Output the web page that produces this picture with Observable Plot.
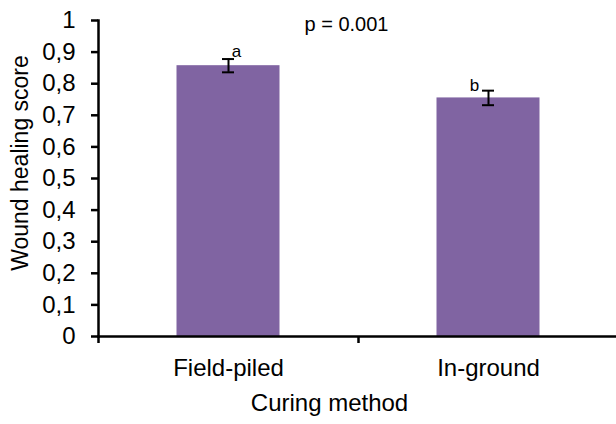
<!DOCTYPE html>
<html>
<head>
<meta charset="utf-8">
<script src="https://cdn.jsdelivr.net/npm/d3@7"></script>
<script src="https://cdn.jsdelivr.net/npm/@observablehq/plot@0.6"></script>
<style>
  html, body { margin: 0; padding: 0; background: #fff; }
  #chart { width: 616px; height: 424px; }
  svg { font-family: "Liberation Sans", Arial, sans-serif; }
</style>
</head>
<body>
<div id="chart"></div>
<script>
// Data
const methods = ["Field-piled", "In-ground"];
const scores = [0.857, 0.755];
const errors = [0.021, 0.023];
const letters = ["a", "b"];
const yTicks = [0, 0.1, 0.2, 0.3, 0.4, 0.5, 0.6, 0.7, 0.8, 0.9, 1];
const yTitle = "Wound healing score";
const xTitle = "Curing method";
const pText = "p = 0.001";

const data = methods.map((m, i) => ({method: m, score: scores[i], err: errors[i], letter: letters[i]}));
const purple = "#8064A2";
const font = "Liberation Sans, Arial, sans-serif";

const chart = Plot.plot({
  width: 616,
  height: 424,
  marginLeft: 98,
  marginRight: 0,
  marginTop: 20,
  marginBottom: 88,
  style: {fontFamily: font, color: "#000", background: "#fff"},
  x: {type: "band", domain: methods, range: [98, 618], padding: 0},
  y: {domain: [0, 1], range: [336, 20]},
  marks: [
    Plot.barY(data, {x: "method", y: "score", fill: purple, insetLeft: 78.5, insetRight: 78.5}),
    // error bars
    Plot.ruleX(data, {x: "method", y1: d => d.score - d.err, y2: d => d.score + d.err, stroke: "#000", strokeWidth: 2}),
    Plot.tickY(data, {x: "method", y: d => d.score - d.err, stroke: "#000", strokeWidth: 2, insetLeft: 124, insetRight: 124}),
    Plot.tickY(data, {x: "method", y: d => d.score + d.err, stroke: "#000", strokeWidth: 2, insetLeft: 124, insetRight: 124}),
    // significance letters
    Plot.text(data.slice(0, 1), {x: "method", y: d => d.score + d.err, text: "letter", dx: 8, dy: -2, lineAnchor: "bottom", fontSize: 17, fill: "#000"}),
    Plot.text(data.slice(1), {x: "method", y: d => d.score + d.err, text: "letter", dx: -14, dy: 0, lineAnchor: "bottom", fontSize: 17, fill: "#000"}),
    // p value
    Plot.text([pText], {frameAnchor: "top", text: d => d, dx: -11, dy: 4, lineAnchor: "middle", fontSize: 20, fill: "#000"}),
    // axes
    Plot.axisY({ticks: yTicks, tickFormat: d => String(d).replace(".", ","), tickSize: 7, tickPadding: 16, fontSize: 24, strokeWidth: 2.5, label: null}),
    Plot.axisX({tickSize: 0, tickPadding: 22, fontSize: 24, label: null}),
    // axis lines
    Plot.frame({anchor: "left", stroke: "#000", strokeWidth: 2.5}),
    Plot.frame({anchor: "bottom", stroke: "#000", strokeWidth: 2.5}),
    // x tick marks at category boundaries
    Plot.ruleX(methods, {x: d => d, y1: 0, y2: 0, insetBottom: -7, dx: -130, stroke: "#000", strokeWidth: 2.5}),
    // axis titles
    Plot.text([yTitle], {frameAnchor: "left", y: 0.549, text: d => d, rotate: -90, textAnchor: "middle", dx: -78, fontSize: 23, fill: "#000"}),
    Plot.text([xTitle], {frameAnchor: "bottom", text: d => d, textAnchor: "middle", dx: -28, dy: 74, fontSize: 24, fill: "#000"})
  ]
});
document.getElementById("chart").appendChild(chart);
</script>
</body>
</html>
